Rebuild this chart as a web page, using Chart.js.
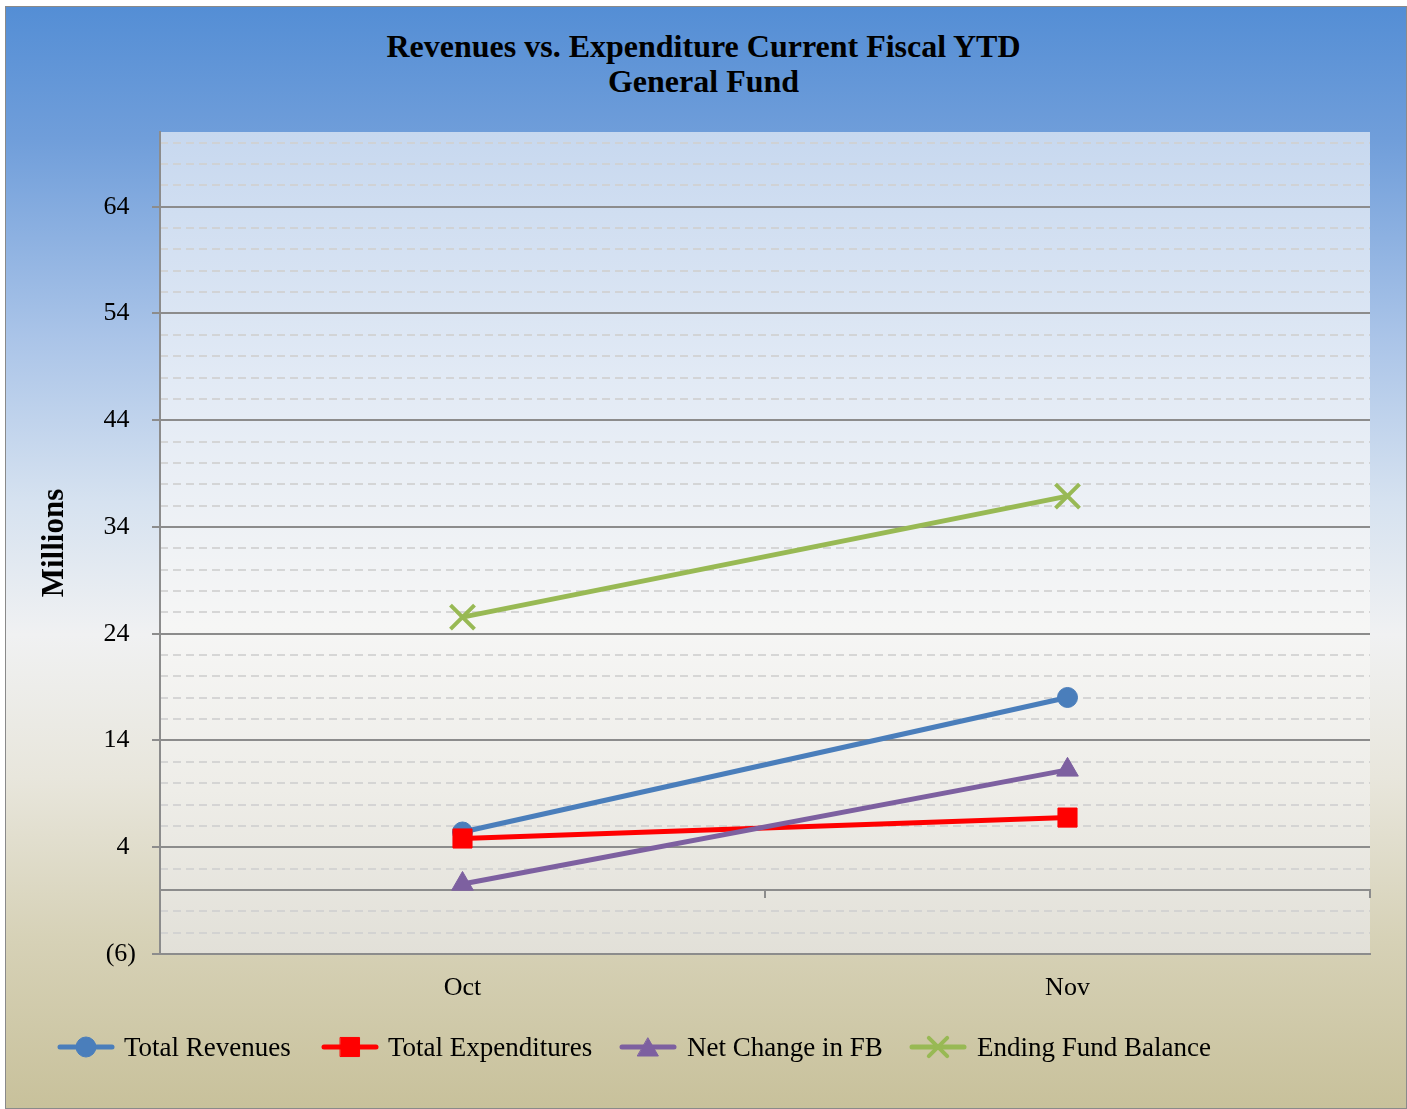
<!DOCTYPE html>
<html><head><meta charset="utf-8">
<script src="https://cdn.jsdelivr.net/npm/chart.js@4/dist/chart.umd.min.js"></script>
<style>
html,body{margin:0;padding:0;width:1407px;height:1109px;overflow:hidden;background:#fff;}
#frame{position:absolute;left:5px;top:6px;width:1400px;height:1101px;border:1px solid #8a8a8a;
background:linear-gradient(to bottom, rgb(84,142,213) 0%, rgb(112,158,218) 12%, rgb(170,196,232) 30%, rgb(214,226,240) 45%, rgb(240,241,242) 57%, rgb(232,230,220) 70%, rgb(214,209,182) 85%, rgb(200,193,155) 100%);}
#c{position:absolute;left:0;top:0;}
#title{position:absolute;left:0;width:1407px;top:29px;text-align:center;font:bold 32px "Liberation Serif";line-height:35px;color:#000;}
.legtxt{position:absolute;top:1032px;line-height:34px;font:27px "Liberation Serif";color:#000;white-space:nowrap;}
.legico{position:absolute;top:1030px;}
</style>
</head><body>
<div id="frame"></div>
<div id="title">Revenues vs. Expenditure Current Fiscal YTD<br>General Fund</div>
<canvas id="c" width="1407" height="1109"></canvas>
<div id="legend"></div>
<script>
// ---- data ----
const categories = ['Oct', 'Nov'];
const seriesNames = ['Total Revenues', 'Total Expenditures', 'Net Change in FB', 'Ending Fund Balance'];
const totalRevenues = [5.43, 18.03];
const totalExpenditures = [4.82, 6.78];
const netChangeFB = [0.56, 11.25];
const endingFundBalance = [25.56, 36.89];
const yMajorTicks = [-6, 4, 14, 24, 34, 44, 54, 64];
const yMin = -6, yMax = 71, yMinorStep = 2;

// ---- styles ----
const colors = ['rgb(74,126,187)', 'rgb(255,0,0)', 'rgb(125,96,160)', 'rgb(152,185,84)'];
const pointStyles = ['circle', 'rect', 'triangle', 'crossRot'];
const pointRadii = [10, 13.5, 12.5, 17];
const pointBorders = [1, 1, 1, 4];
const seriesValues = [totalRevenues, totalExpenditures, netChangeFB, endingFundBalance];

const yMinorTicks = [];
for (let v = yMin; v < yMax; v += yMinorStep) if (!yMajorTicks.includes(v)) yMinorTicks.push(v);

const GRID = '#8c8c8c';
const FONT = '"Liberation Serif", "Times New Roman", serif';

const plotBg = {
  id: 'plotBg',
  beforeDraw(chart) {
    const {ctx, chartArea: a} = chart;
    const g = ctx.createLinearGradient(0, a.top, 0, a.bottom);
    g.addColorStop(0, 'rgb(199,216,239)');
    g.addColorStop(0.3, 'rgb(226,234,245)');
    g.addColorStop(0.6, 'rgb(246,246,245)');
    g.addColorStop(0.8, 'rgb(238,237,232)');
    g.addColorStop(1, 'rgb(226,224,216)');
    ctx.save();
    ctx.fillStyle = g;
    ctx.fillRect(a.left, a.top, a.right - a.left, a.bottom - a.top);
    ctx.restore();
  }
};

const datasets = seriesNames.map((name, i) => ({
  label: name,
  data: seriesValues[i],
  borderColor: colors[i],
  backgroundColor: colors[i],
  borderWidth: 5,
  pointStyle: pointStyles[i],
  pointRadius: pointRadii[i],
  pointHoverRadius: pointRadii[i],
  pointBorderWidth: pointBorders[i],
  pointBackgroundColor: colors[i],
  pointBorderColor: colors[i],
  tension: 0,
  order: seriesNames.length - i,
  clip: false
}));

new Chart(document.getElementById('c'), {
  type: 'line',
  data: { labels: categories, datasets },
  plugins: [plotBg],
  options: {
    responsive: false,
    animation: false,
    devicePixelRatio: 1,
    layout: { padding: { left: 30, top: 132, right: 37, bottom: 0 } },
    plugins: { legend: { display: false }, title: { display: false }, tooltip: { enabled: false } },
    scales: {
      x: {
        type: 'category',
        position: 'bottom',
        offset: true,
        grid: { display: false, drawTicks: false },
        border: { display: true, color: GRID, width: 2 },
        ticks: { padding: 19, color: '#000', font: { family: FONT, size: 26 } },
        afterFit(s) { s.height = 155; }
      },
      x0: {
        type: 'category',
        position: { y: 0 },
        offset: true,
        grid: { offset: true, drawOnChartArea: false, drawTicks: true, tickLength: 7, color: GRID, lineWidth: 2 },
        border: { display: true, color: GRID, width: 2 },
        ticks: { display: false }
      },
      y2: {
        type: 'linear',
        position: 'left',
        min: yMin, max: yMax,
        afterBuildTicks(s) { s.ticks = yMinorTicks.map(v => ({ value: v })); },
        grid: { color: 'rgba(208,208,208,0.85)', lineWidth: 2, drawTicks: false },
        border: { display: false, dash: [8, 5] },
        ticks: { display: false },
        afterFit(s) { s.width = 0; }
      },
      y: {
        type: 'linear',
        position: 'left',
        min: yMin, max: yMax,
        afterBuildTicks(s) { s.ticks = yMajorTicks.map(v => ({ value: v })); },
        grid: { color: GRID, lineWidth: 2, drawTicks: true, tickLength: 8, tickColor: GRID },
        border: { display: true, color: GRID, width: 2 },
        ticks: {
          padding: 16, color: '#000', font: { family: FONT, size: 26 },
          callback: v => v < 0 ? '(' + (-v) + ')' : v + ' '
        },
        title: { display: true, text: 'Millions', color: '#000', padding: { top: 6, bottom: 0 },
                 font: { family: FONT, size: 31, weight: 'bold' } },
        afterFit(s) { s.width = 130; }
      }
    }
  }
});

// ---- legend (HTML text, icons drawn with Chart.js point helper) ----
const legIconX = [56, 320, 618, 908];
const legTextX = [124, 388, 687, 977];
const legend = document.getElementById('legend');
seriesNames.forEach((name, i) => {
  const cv = document.createElement('canvas');
  cv.width = 60; cv.height = 34; cv.className = 'legico';
  cv.style.left = legIconX[i] + 'px';
  legend.appendChild(cv);
  const ctx = cv.getContext('2d');
  ctx.strokeStyle = colors[i]; ctx.lineWidth = 5; ctx.lineCap = 'round';
  ctx.beginPath(); ctx.moveTo(4, 17); ctx.lineTo(56, 17); ctx.stroke();
  ctx.fillStyle = colors[i]; ctx.strokeStyle = colors[i];
  ctx.lineWidth = pointBorders[i];
  const r = [10, 13.5, 12, 13][i];
  Chart.helpers.drawPoint(ctx, { pointStyle: pointStyles[i], radius: r, rotation: 0, borderWidth: pointBorders[i] }, 30, i === 2 ? 20 : 17);
  const t = document.createElement('div');
  t.className = 'legtxt';
  t.style.left = legTextX[i] + 'px';
  t.textContent = name;
  legend.appendChild(t);
});
</script>
</body></html>
